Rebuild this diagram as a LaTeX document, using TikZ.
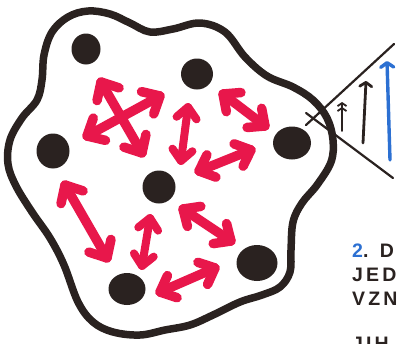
\documentclass[tikz,border=0pt]{standalone}
\usepackage{fontspec}
\setmainfont{Liberation Sans}
\newfontfamily\handfont[LetterSpace=16]{Liberation Sans}
\usetikzlibrary{arrows.meta,shapes.geometric,calc}
\definecolor{ink}{HTML}{2A2220}
\definecolor{rosered}{HTML}{E8174B}
\definecolor{penblue}{HTML}{2C70D2}
% double-headed marker arrow: #1 style, #2 start, #3 end, #4 arm length
\newcommand\redarr[4]{%
  \draw[#1] (#2) -- (#3);
  \draw[#1] ($(#2)!#4!42:(#3)$) -- (#2) -- ($(#2)!#4!-42:(#3)$);
  \draw[#1] ($(#3)!#4!42:(#2)$) -- (#3) -- ($(#3)!#4!-42:(#2)$);
}
\begin{document}
\begin{tikzpicture}[x=1pt,y=-1pt,
  dot/.style={ellipse,fill=ink,inner sep=0pt},
  blob/.style={draw=ink,line width=7.5pt,line join=round},
  redmark/.style={draw=rosered,line width=9.5pt,line cap=round,line join=round},
  redthin/.style={draw=rosered,line width=8pt,line cap=round,line join=round},
  conel/.style={draw=ink,line width=2.2pt,line cap=round},
  label/.style={anchor=base west,inner sep=0pt,text=ink,font=\handfont\bfseries\fontsize{19.5}{19.5}\selectfont}
]
\useasboundingbox (0,0) rectangle (398,343);
\clip (0,0) rectangle (398,343);
\fill[white] (0,0) rectangle (398,343);

% outline
\draw[blob] plot[smooth cycle,tension=0.6] coordinates {
 (10,140) (22,118) (37,100) (42,80) (44,55) (52,32) (68,17) (88,11) (110,14) (130,23)
 (150,32) (173,29) (200,23) (225,32) (245,57) (267,76) (293,87) (313,100) (327,118)
 (333,140) (331,162) (317,185) (302,203) (293,222) (291,250) (290,272) (280,287)
 (262,295) (240,302) (213,315) (190,325) (165,330) (140,335) (113,332) (93,322)
 (78,302) (64,265) (50,238) (32,212) (16,186) (8,164)};

% dots
\node[dot,minimum width=29pt,minimum height=31pt] (d1) at (86,49) {};
\node[dot,minimum width=32pt,minimum height=31pt] (d2) at (197,74) {};
\node[dot,minimum width=33pt,minimum height=35pt] (d3) at (53,151) {};
\node[dot,minimum width=38pt,minimum height=33pt] (d4) at (292,143) {};
\node[dot,minimum width=33pt,minimum height=33pt] (d5) at (159,187) {};
\node[dot,minimum width=37pt,minimum height=32pt] (d6) at (127,289) {};
\node[dot,minimum width=41pt,minimum height=36pt] (d7) at (257,263) {};

% red arrow end points
\coordinate (a1s) at (101,82);  \coordinate (a1e) at (142,153);
\coordinate (a2s) at (87,136);  \coordinate (a2e) at (160,96);
\coordinate (a3s) at (188,107); \coordinate (a3e) at (181,161);
\coordinate (a4s) at (223,94);  \coordinate (a4e) at (265,126);
\coordinate (a5s) at (199,171); \coordinate (a5e) at (251,150);
\coordinate (a6s) at (65,185);  \coordinate (a6e) at (107,258);
\coordinate (a7s) at (150,218); \coordinate (a7e) at (142,266);
\coordinate (a8s) at (183,209); \coordinate (a8e) at (231,241);
\coordinate (a9s) at (160,292); \coordinate (a9e) at (215,268);

\redarr{redmark}{a1s}{a1e}{19pt}
\redarr{redmark}{a2s}{a2e}{19pt}
\redarr{redthin}{a3s}{a3e}{15pt}
\redarr{redmark}{a4s}{a4e}{18pt}
\redarr{redmark}{a5s}{a5e}{18pt}
\redarr{redmark}{a6s}{a6e}{19pt}
\redarr{redthin}{a7s}{a7e}{15pt}
\redarr{redmark}{a8s}{a8e}{18pt}
\redarr{redmark}{a9s}{a9e}{18pt}

% cone
\coordinate (c1a) at (306,125); \coordinate (c1b) at (394,44);
\coordinate (c2a) at (306,113); \coordinate (c2b) at (393,178);
\draw[conel] (c1a) -- (c1b);
\draw[conel] (c2a) -- (c2b);

\coordinate (s1a) at (342,131); \coordinate (s1b) at (342,102);
\coordinate (s2a) at (363,143); \coordinate (s2b) at (366,81);
\coordinate (s3a) at (390,160); \coordinate (s3b) at (387,61);
\draw[ink,line width=1.8pt,line cap=round,-{Straight Barb[length=3pt,width=9pt]Straight Barb[length=3pt,width=9pt]}] (s1a) -- (s1b);
\draw[ink,line width=2.8pt,line cap=round,-{Straight Barb[round,length=4pt,width=12pt]}] (s2a) -- (s2b);
\draw[penblue,line width=3.4pt,line cap=round,-{Straight Barb[round,length=4.5pt,width=13pt]}] (s3a) -- (s3b);

% text
\node[label] (t1) at (352,257) {\textcolor{penblue}{2}. D};
\node[label] (t2) at (352,281) {JED};
\node[label] (t3) at (352,305) {VZN};
\node[label] (t4) at (352,350) {JIH};
\end{tikzpicture}
\end{document}
